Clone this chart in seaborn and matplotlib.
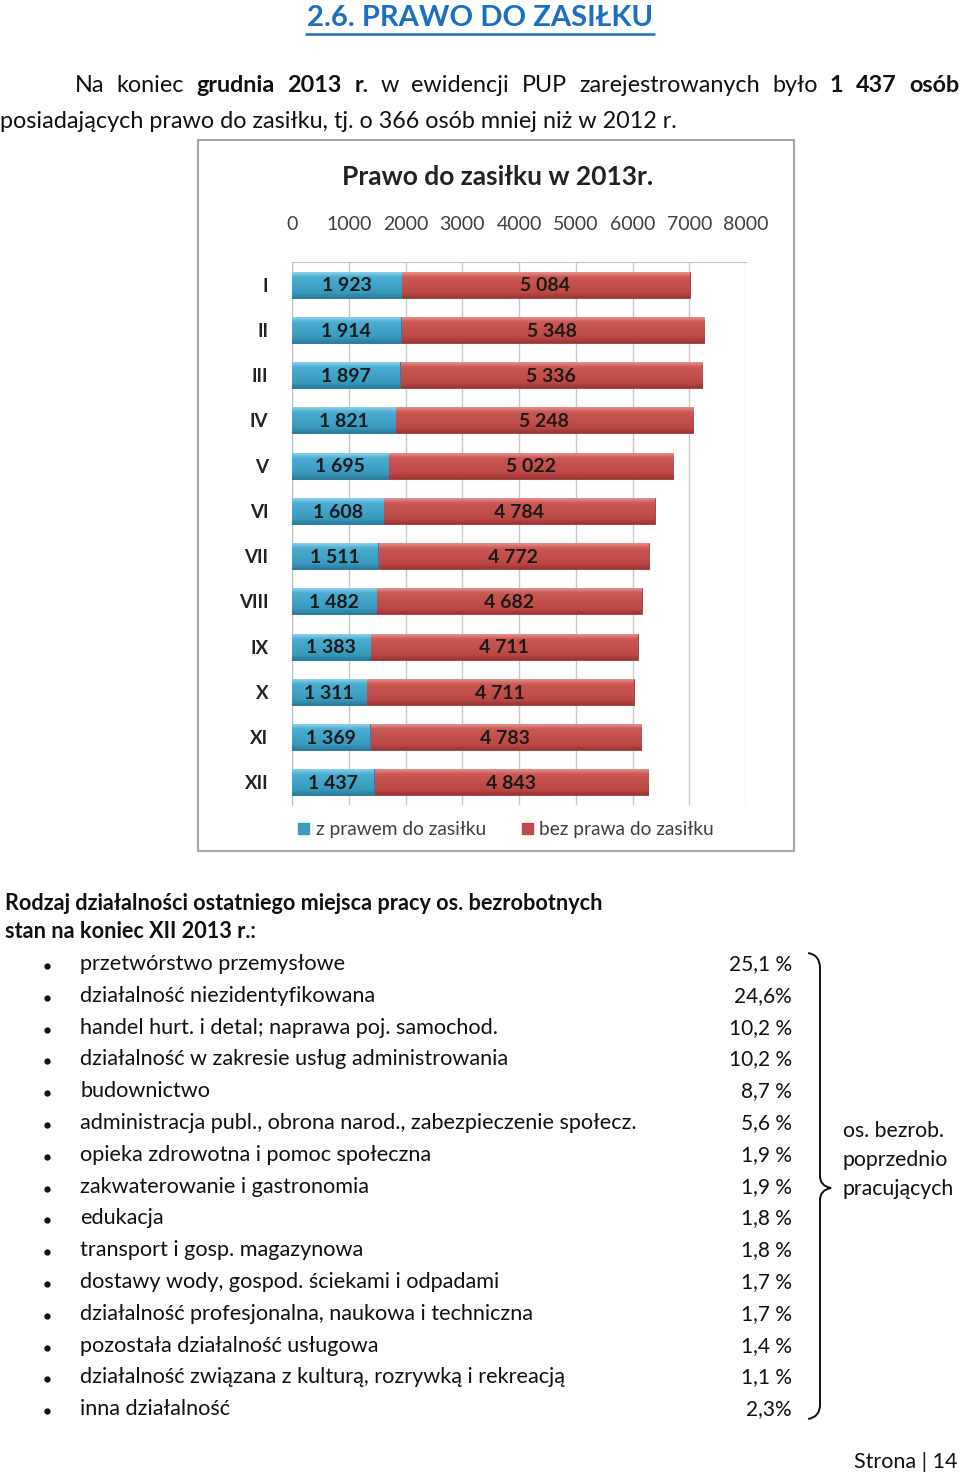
import matplotlib
matplotlib.use("Agg")
import matplotlib.pyplot as plt
import seaborn as sns
import pandas as pd
import numpy as np
from matplotlib.path import Path
from matplotlib.patches import PathPatch, Rectangle, Patch
from matplotlib.colors import LinearSegmentedColormap

# Data
months = ["I", "II", "III", "IV", "V", "VI", "VII", "VIII", "IX", "X", "XI", "XII"]
z_prawem = [1923, 1914, 1897, 1821, 1695, 1608, 1511, 1482, 1383, 1311, 1369, 1437]
bez_prawa = [5084, 5348, 5336, 5248, 5022, 4784, 4772, 4682, 4711, 4711, 4783, 4843]

branze = [
    "przetwórstwo przemysłowe",
    "działalność niezidentyfikowana",
    "handel hurt. i detal; naprawa poj. samochod.",
    "działalność w zakresie usług administrowania",
    "budownictwo",
    "administracja publ., obrona narod., zabezpieczenie społecz.",
    "opieka zdrowotna i pomoc społeczna",
    "zakwaterowanie i gastronomia",
    "edukacja",
    "transport i gosp. magazynowa",
    "dostawy wody, gospod. ściekami i odpadami",
    "działalność profesjonalna, naukowa i techniczna",
    "pozostała działalność usługowa",
    "działalność związana z kulturą, rozrywką i rekreacją",
    "inna działalność",
]
udzial = ["25,1 %", "24,6%", "10,2 %", "10,2 %", "8,7 %", "5,6 %", "1,9 %", "1,9 %",
          "1,8 %", "1,8 %", "1,7 %", "1,7 %", "1,4 %", "1,1 %", "2,3%"]

df = pd.DataFrame({"miesiac": months, "z": z_prawem, "bez": bez_prawa})
df["razem"] = df["z"] + df["bez"]

BLUE = '#3a9cc1'
RED = '#bf4a47'

sns.set_style("white")
plt.rcParams['font.family'] = ['Lato', 'DejaVu Sans']

fig = plt.figure(figsize=(9.6, 14.77), dpi=100)

# overlay axes in pixel coordinates for the page text
ov = fig.add_axes([0, 0, 1, 1])
ov.set_xlim(0, 960)
ov.set_ylim(1477, 0)
ov.axis('off')
ov.patch.set_alpha(0)

# heading
ov.text(480, 18, "2.6. PRAWO DO ZASIŁKU", fontsize=21, fontweight='bold',
        color='#1a6fc0', ha='center', va='center')
ov.plot([306, 654], [34, 34], color='#1a6fc0', lw=1.8)

def justify(words, y, x0, x1, size):
    texts = []
    for w, b in words:
        texts.append(ov.text(0, y, w, fontsize=size, fontweight='bold' if b else 'normal',
                             ha='left', va='center', color='#111111'))
    fig.canvas.draw()
    r = fig.canvas.get_renderer()
    widths = [t.get_window_extent(r).width for t in texts]
    gap = (x1 - x0 - sum(widths)) / (len(texts) - 1)
    x = x0
    for t, w in zip(texts, widths):
        t.set_x(x)
        x += w + gap

line1 = [("Na", 0), ("koniec", 0), ("grudnia", 1), ("2013", 1), ("r.", 1), ("w", 0),
         ("ewidencji", 0), ("PUP", 0), ("zarejestrowanych", 0), ("było", 0),
         ("1", 1), ("437", 1), ("osób", 1)]
justify(line1, 85, 75, 959, 16.8)
ov.text(0, 121, "posiadających prawo do zasiłku, tj. o 366 osób mniej niż w 2012 r.",
        fontsize=16.8, ha='left', va='center', color='#111111')

# chart frame
ov.add_patch(Rectangle((198, 140), 596, 711, fill=False, ec='#a6a6a6', lw=1.5))
ov.text(498, 177, "Prawo do zasiłku w 2013r.", fontsize=19, fontweight='bold',
        ha='center', va='center', color='#222222')

# chart
ax = fig.add_axes([292 / 960, 1 - 805 / 1477, 454 / 960, 543 / 1477])
sns.barplot(data=df, y="miesiac", x="razem", orient='h', color=RED,
            width=0.58, saturation=1, ax=ax, edgecolor='#9a3a38', linewidth=0.6, zorder=3)
sns.barplot(data=df, y="miesiac", x="z", orient='h', color=BLUE,
            width=0.58, saturation=1, ax=ax, edgecolor='#2a7fa0', linewidth=0.6, zorder=4)

# shaded, slightly 3D-looking fill of the bars
cm_blue = LinearSegmentedColormap.from_list(
    "b", [(0, '#9ad8ee'), (0.22, '#4aaed2'), (0.8, '#3899bd'), (1, '#2a7d9c')])
cm_red = LinearSegmentedColormap.from_list(
    "r", [(0, '#ec9a97'), (0.22, '#cc5855'), (0.8, '#bd4845'), (1, '#9c3533')])
grad = np.linspace(0, 1, 64).reshape(-1, 1)
for p in list(ax.patches):
    bb = p.get_bbox()
    fc = matplotlib.colors.to_hex(p.get_facecolor())
    cmap = cm_blue if fc == BLUE else cm_red
    im = ax.imshow(grad, cmap=cmap, aspect='auto', origin='upper',
                   extent=(bb.x0, bb.x1, bb.y1, bb.y0), zorder=p.get_zorder() + 0.1)
    im.set_clip_path(p)

ax.set_xlim(0, 8000)
ax.set_ylim(11.5, -0.5)
ax.set_xticks(range(0, 8001, 1000))
ax.xaxis.tick_top()
ax.tick_params(axis='x', length=0, pad=21, labelsize=14, labelcolor='#404040')
ax.tick_params(axis='y', length=0, pad=17, labelsize=13.5, labelcolor='#222222')
for lab in ax.get_yticklabels():
    lab.set_fontweight('bold')
ax.set_xlabel("")
ax.set_ylabel("")
ax.grid(axis='x', color='#c8c8c8', lw=1, zorder=0)
ax.set_axisbelow(True)
for s in ["bottom", "right"]:
    ax.spines[s].set_visible(False)
for s in ["top", "left"]:
    ax.spines[s].set_color('#c0c0c0')

def fmt(v):
    return f"{v:,}".replace(",", " ")

for i, (z, b) in enumerate(zip(z_prawem, bez_prawa)):
    ax.text(z / 2, i + 0.03, fmt(z), ha='center', va='center', fontsize=14,
            fontweight='bold', color='#1a1a1a', zorder=6)
    ax.text(z + b / 2, i + 0.03, fmt(b), ha='center', va='center', fontsize=14,
            fontweight='bold', color='#1a1a1a', zorder=6)

handles = [Patch(color=BLUE), Patch(color=RED)]
ax.legend(handles, ["z prawem do zasiłku", "bez prawa do zasiłku"], loc='center',
          bbox_to_anchor=(0.472, -0.046), ncol=2, frameon=False, fontsize=13.8,
          handlelength=0.55, handleheight=0.55, handletextpad=0.35, columnspacing=1.9,
          labelcolor='#404040')

# list below chart
ov.text(5, 903, "Rodzaj działalności ostatniego miejsca pracy os. bezrobotnych",
        fontsize=15.6, fontweight='bold', ha='left', va='center', color='#111111')
ov.text(5, 932, "stan na koniec XII 2013 r.:", fontsize=15.6, fontweight='bold',
        ha='left', va='center', color='#111111')

for i, (name, pct) in enumerate(zip(branze, udzial)):
    y = 964 + i * 31.8
    ov.plot(47, y + 2, 'o', ms=3.5, color='#111111')
    ov.text(80, y, name, fontsize=15.6, ha='left', va='center', color='#111111')
    ov.text(792, y, pct, fontsize=15, ha='right', va='center', color='#111111')

# brace
verts = [(808, 953), (820, 955), (820, 968), (820, 1176), (820, 1186), (831, 1188),
         (820, 1190), (820, 1200), (820, 1405), (820, 1417), (808, 1419)]
codes = [Path.MOVETO, Path.CURVE3, Path.CURVE3, Path.LINETO, Path.CURVE3, Path.CURVE3,
         Path.CURVE3, Path.CURVE3, Path.LINETO, Path.CURVE3, Path.CURVE3]
ov.add_patch(PathPatch(Path(verts, codes), fill=False, lw=1.4, ec='#111111'))
for j, t in enumerate(["os. bezrob.", "poprzednio", "pracujących"]):
    ov.text(843, 1131 + j * 29, t, fontsize=15.3, ha='left', va='center', color='#111111')

# footer
ov.text(958, 1462, "Strona | 14", fontsize=15.5, ha='right', va='center', color='#111111')

fig.savefig("out.png", dpi=100)
